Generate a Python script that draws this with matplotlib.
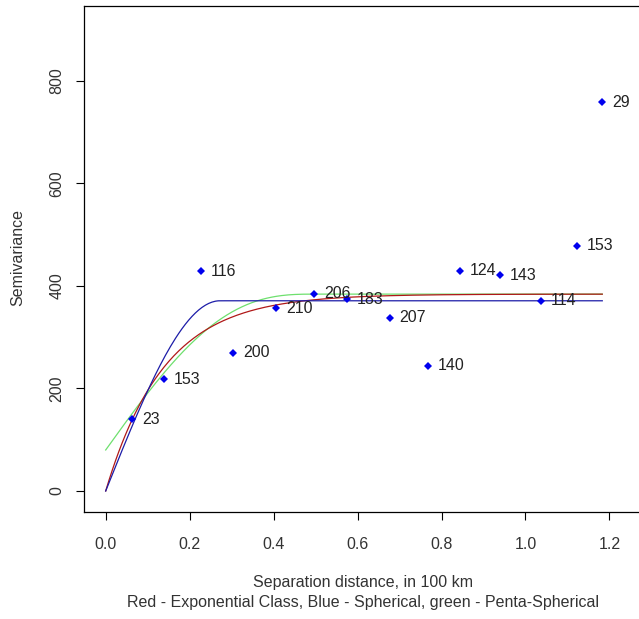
import numpy as np
import matplotlib
matplotlib.use("Agg")
import matplotlib.pyplot as plt

plt.rcParams['font.family'] = ['Liberation Sans', 'DejaVu Sans']

# sample variogram: lag distance (100 km), semivariance, number of pairs
dist = [0.063, 0.138, 0.226, 0.304, 0.406, 0.497, 0.576, 0.677, 0.767, 0.844, 0.940, 1.037, 1.122, 1.183]
gamma = [140, 218, 429, 270, 356, 385, 374, 338, 244, 430, 421, 371, 478, 758]
npairs = [23, 153, 116, 200, 210, 206, 183, 207, 140, 124, 143, 114, 153, 29]

# fitted models (nugget, partial sill, range)
sph = (0, 371, 0.272)
exc = (0, 384, 0.14)     # exponential class, shape 1
pen = (80, 304, 0.5)


def spherical(h, c0, c, a):
    t = np.minimum(h / a, 1.0)
    return c0 + c * (1.5 * t - 0.5 * t ** 3)


def pentaspherical(h, c0, c, a):
    t = np.minimum(h / a, 1.0)
    return c0 + c * (15 / 8 * t - 5 / 4 * t ** 3 + 3 / 8 * t ** 5)


def expclass(h, c0, c, a, k=1.0):
    return c0 + c * (1 - np.exp(-(h / a) ** k))


fs = 11.5

fig = plt.figure(figsize=(6.39, 6.19), dpi=100)
ax = fig.add_axes([84 / 639, 1 - 512 / 619, (643 - 84) / 639, (512 - 6) / 619])

h = np.linspace(0, max(dist), 300)
ax.plot(h, pentaspherical(h, *pen), color='#6ee06e', lw=0.9)
ax.plot(h, expclass(h, *exc), color='#b01818', lw=0.9)
ax.plot(h, spherical(h, *sph), color='#1c1ca8', lw=0.9)

ax.plot(dist, gamma, 'D', color='#0000ee', markersize=3.8, markeredgewidth=0)
for x, y, n in zip(dist, gamma, npairs):
    ax.annotate(str(n), (x, y), xytext=(7, 0), textcoords='offset points',
                ha='left', va='center', fontsize=fs, color='#222222')

ax.set_xlim(-0.0517, 1.28)
ax.set_ylim(-41, 946)
ax.set_xticks([0.0, 0.2, 0.4, 0.6, 0.8, 1.0, 1.2])
ax.set_xticklabels(['0.0', '0.2', '0.4', '0.6', '0.8', '1.0', '1.2'])
ax.set_yticks([0, 200, 400, 600, 800])
ax.tick_params(axis='both', length=6, width=0.8, labelsize=fs, labelcolor='#333333')
ax.tick_params(axis='x', pad=12)
ax.tick_params(axis='y', pad=8)
for lab in ax.get_yticklabels():
    lab.set_rotation(90)
    lab.set_va('center')
for s in ax.spines.values():
    s.set_linewidth(0.9)

fig.text(18 / 639, 1 - 257 / 619, 'Semivariance', rotation=90, ha='center', va='center',
         fontsize=fs, color='#333333')
fig.text(363 / 639, 1 - 583 / 619, 'Separation distance, in 100 km', ha='center', va='center',
         fontsize=fs, color='#333333')
fig.text(363 / 639, 1 - 603 / 619, 'Red - Exponential Class, Blue - Spherical, green - Penta-Spherical',
         ha='center', va='center', fontsize=fs, color='#333333')

fig.savefig('out.png', dpi=100)
